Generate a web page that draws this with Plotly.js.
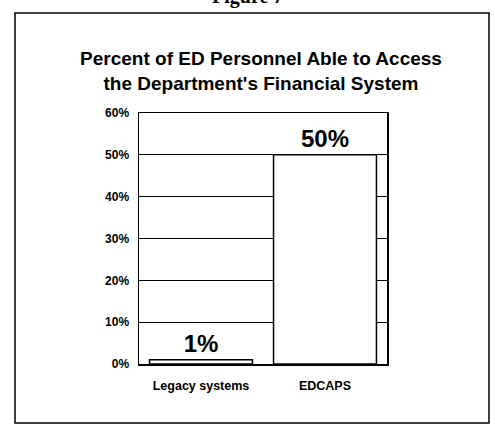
<!DOCTYPE html>
<html><head><meta charset="utf-8">
<script src="https://cdn.plot.ly/plotly-3.0.1.min.js"></script>
<style>html,body{margin:0;padding:0;background:#fff}#chart{width:495px;height:425px}</style>
</head><body><div id="chart"></div>
<script>
const categories = ["Legacy systems", "EDCAPS"];
const values = [1, 50];
const valueLabels = ["1%", "50%"];
const yTickVals = [0, 10, 20, 30, 40, 50, 60];
const yTickText = ["0%", "10%", "20%", "30%", "40%", "50%", "60%"];

const F = "Arial, 'Liberation Sans', sans-serif";
const W = 495, H = 425, L = 139, R = 108, T = 113, B = 61;
const pw = W - L - R, ph = H - T - B;
const px = x => (x - L) / pw;
const py = y => (H - B - y) / ph;

const trace = {
  type: "bar", x: categories, y: values,
  text: valueLabels, textposition: "outside", cliponaxis: false,
  textfont: {family: F, size: 24, color: "#000", weight: "bold"},
  marker: {color: "#fff", line: {color: "#000", width: 1.5}},
  width: 0.83, hoverinfo: "none"
};

const layout = {
  width: W, height: H,
  margin: {l: L, r: R, t: T, b: B},
  paper_bgcolor: "#fff", plot_bgcolor: "#fff",
  showlegend: false,
  title: {
    text: "<b>Percent of ED Personnel Able to Access<br>the Department's Financial System</b>",
    font: {family: F, size: 19, color: "#000"},
    x: 261/495, xanchor: "center", yref: "container", y: 1 - 65/425, yanchor: "top"
  },
  xaxis: {
    type: "category", range: [-0.5, 1.5],
    showline: true, linecolor: "#000", linewidth: 1.5, mirror: true,
    ticks: "outside", ticklen: 9, tickcolor: "rgba(0,0,0,0)",
    tickfont: {family: F, size: 12.5, color: "#000", weight: "bold"},
    showgrid: false
  },
  yaxis: {
    range: [0, 60], tickvals: yTickVals, ticktext: yTickText,
    showline: true, linecolor: "#000", linewidth: 1.5, mirror: true,
    showgrid: true, gridcolor: "#000", gridwidth: 1,
    zeroline: false,
    ticks: "outside", ticklen: 6, tickcolor: "rgba(0,0,0,0)",
    tickfont: {family: F, size: 12, color: "#000", weight: "bold"}
  },
  shapes: [
    {type: "rect", xref: "paper", yref: "paper",
     x0: px(15), x1: px(489), y0: py(423), y1: py(13),
     line: {color: "#000", width: 1.5}, fillcolor: "rgba(0,0,0,0)", layer: "below"}
  ],
  annotations: [
    {text: "<b>Figure 7</b>", xref: "paper", yref: "paper", x: px(247), y: py(-3),
     xanchor: "center", yanchor: "middle", showarrow: false,
     font: {family: "'Liberation Serif', 'DejaVu Serif', serif", size: 20, color: "#000"}}
  ]
};

Plotly.newPlot("chart", [trace], layout, {staticPlot: true, displayModeBar: false});
</script></body></html>
